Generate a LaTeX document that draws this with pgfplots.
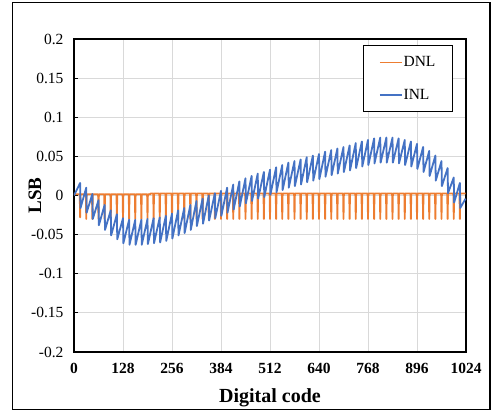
\documentclass[border=0pt]{standalone}
\usepackage{fontspec}
\setmainfont{Liberation Serif}
\usepackage{pgfplots}
\pgfplotsset{compat=1.18}
\definecolor{dnlorange}{HTML}{ED7D31}
\definecolor{inlblue}{HTML}{4472C4}
\definecolor{gridgray}{HTML}{D9D9D9}

% DNL of the 10-bit converter: small positive offset, a negative spike every 16 codes
\pgfplotstableread{
code dnl
0 0.0015
15 0.0015
16 -0.028
17 0.0015
31 0.0015
32 -0.030
33 0.0015
47 0.0015
48 -0.030
49 0.0015
63 0.0015
64 -0.030
65 0.0015
79 0.0015
80 -0.030
81 0.0015
95 0.0015
96 -0.030
97 0.0015
111 0.0015
112 -0.030
113 0.0015
127 0.0015
128 -0.030
129 0.0015
143 0.0015
144 -0.030
145 0.0015
159 0.0015
160 -0.030
161 0.0015
175 0.0015
176 -0.030
177 0.0015
191 0.0015
192 -0.030
193 0.0015
199 0.0015
200 0.0025
207 0.0025
208 -0.030
209 0.0025
223 0.0025
224 -0.030
225 0.0025
239 0.0025
240 -0.030
241 0.0025
255 0.0025
256 -0.030
257 0.0025
271 0.0025
272 -0.030
273 0.0025
287 0.0025
288 -0.030
289 0.0025
303 0.0025
304 -0.030
305 0.0025
319 0.0025
320 -0.030
321 0.0025
335 0.0025
336 -0.030
337 0.0025
351 0.0025
352 -0.030
353 0.0025
367 0.0025
368 -0.030
369 0.0025
383 0.0025
384 -0.030
385 0.0025
399 0.0025
400 -0.030
401 0.0025
415 0.0025
416 -0.030
417 0.0025
431 0.0025
432 -0.030
433 0.0025
447 0.0025
448 -0.030
449 0.0025
463 0.0025
464 -0.030
465 0.0025
479 0.0025
480 -0.030
481 0.0025
495 0.0025
496 -0.030
497 0.0025
511 0.0025
512 -0.030
513 0.0025
527 0.0025
528 -0.030
529 0.0025
543 0.0025
544 -0.030
545 0.0025
559 0.0025
560 -0.030
561 0.0025
575 0.0025
576 -0.030
577 0.0025
591 0.0025
592 -0.030
593 0.0025
607 0.0025
608 -0.030
609 0.0025
623 0.0025
624 -0.030
625 0.0025
639 0.0025
640 -0.030
641 0.0025
655 0.0025
656 -0.030
657 0.0025
671 0.0025
672 -0.030
673 0.0025
687 0.0025
688 -0.030
689 0.0025
703 0.0025
704 -0.030
705 0.0025
719 0.0025
720 -0.030
721 0.0025
735 0.0025
736 -0.030
737 0.0025
751 0.0025
752 -0.030
753 0.0025
767 0.0025
768 -0.030
769 0.0025
783 0.0025
784 -0.030
785 0.0025
799 0.0025
800 -0.030
801 0.0025
815 0.0025
816 -0.030
817 0.0025
831 0.0025
832 -0.030
833 0.0025
847 0.0025
848 -0.030
849 0.0025
863 0.0025
864 -0.030
865 0.0025
879 0.0025
880 -0.030
881 0.0025
895 0.0025
896 -0.030
897 0.0025
911 0.0025
912 -0.030
913 0.0025
927 0.0025
928 -0.030
929 0.0025
943 0.0025
944 -0.030
945 0.0025
959 0.0025
960 -0.030
961 0.0025
975 0.0025
976 -0.030
977 0.0025
991 0.0025
992 -0.030
993 0.0025
1007 0.0025
1008 -0.030
1009 0.0025
1023 0.0025
}\dnltable

% INL: top of each tooth just before the DNL spike, bottom just after it
\pgfplotstableread{
code inl
0 0.000
16 0.016
17 -0.016
32 0.010
33 -0.022
48 0.002
49 -0.030
64 -0.006
65 -0.038
80 -0.012
81 -0.044
96 -0.019
97 -0.051
112 -0.024
113 -0.056
128 -0.029
129 -0.061
144 -0.031
145 -0.063
160 -0.031
161 -0.063
176 -0.031
177 -0.063
192 -0.030
193 -0.062
208 -0.029
209 -0.061
224 -0.028
225 -0.060
240 -0.026
241 -0.058
256 -0.023
257 -0.055
272 -0.019
273 -0.051
288 -0.016
289 -0.048
304 -0.012
305 -0.044
320 -0.007
321 -0.039
336 -0.004
337 -0.036
352 0.000
353 -0.032
368 0.003
369 -0.029
384 0.006
385 -0.026
400 0.010
401 -0.022
416 0.014
417 -0.018
432 0.018
433 -0.014
448 0.022
449 -0.010
464 0.025
465 -0.007
480 0.028
481 -0.004
496 0.030
497 -0.002
512 0.033
513 0.001
528 0.036
529 0.004
544 0.039
545 0.007
560 0.042
561 0.010
576 0.044
577 0.012
592 0.046
593 0.014
608 0.049
609 0.017
624 0.051
625 0.019
640 0.053
641 0.021
656 0.056
657 0.024
672 0.058
673 0.026
688 0.060
689 0.028
704 0.062
705 0.030
720 0.064
721 0.032
736 0.067
737 0.035
752 0.069
753 0.037
768 0.071
769 0.039
784 0.073
785 0.041
800 0.074
801 0.042
816 0.074
817 0.042
832 0.074
833 0.042
848 0.073
849 0.041
864 0.071
865 0.039
880 0.069
881 0.037
896 0.066
897 0.034
912 0.062
913 0.030
928 0.057
929 0.025
944 0.051
945 0.019
960 0.044
961 0.012
976 0.035
977 0.003
992 0.023
993 -0.009
1008 0.016
1009 -0.016
1023 -0.004
}\inltable

\begin{document}
\begin{tikzpicture}[font=\fontsize{15.5}{18}\selectfont]
\begin{axis}[
  scale only axis,
  width=392pt, height=313pt,
  xmin=0, xmax=1024, ymin=-0.2, ymax=0.2,
  xtick={0,128,256,384,512,640,768,896,1024},
  xticklabels={0,128,256,384,512,640,768,896,1024},
  ytick={-0.2,-0.15,-0.1,-0.05,0,0.05,0.1,0.15,0.2},
  yticklabels={-0.2,-0.15,-0.1,-0.05,0,0.05,0.1,0.15,0.2},
  xticklabel style={font=\fontsize{15.5}{18}\selectfont\bfseries, yshift=-8pt},
  yticklabel style={font=\fontsize{15.5}{18}\selectfont, xshift=-7pt},
  xmajorgrids, ymajorgrids,
  major grid style={draw=gridgray, line width=0.8pt},
  axis line style={black, line width=1.2pt},
  tick align=inside,
  xtick style={draw=none},
  ytick pos=left,
  ytick style={black, line width=1pt},
  major tick length=4pt,
  legend cell align=left,
  legend style={
    at={(axis description cs:0.967,0.981)}, anchor=north east,
    draw=black, line width=1.2pt, fill=white,
    inner xsep=16pt, inner ysep=9pt, row sep=17pt,
    font=\fontsize{15.5}{18}\selectfont,
    nodes={inner xsep=1pt},
  },
  legend image code/.code={\draw[#1] (0pt,0pt) -- (22pt,0pt);},
]
\addplot[dnlorange, line width=1.8pt, line join=round, forget plot] table[x=code, y=dnl] {\dnltable};
\addplot[inlblue, line width=1.8pt, line join=round, forget plot] table[x=code, y=inl] {\inltable};
\addlegendimage{draw=dnlorange, line width=1.5pt}
\addlegendentry{DNL}
\addlegendimage{draw=inlblue, line width=1.5pt}
\addlegendentry{INL}
\end{axis}
% axis titles
\node[font=\fontsize{20}{24}\selectfont\bfseries, anchor=base] at (196pt,-51pt) {Digital code};
\node[font=\fontsize{19}{23}\selectfont\bfseries, rotate=90] at (-39pt,156.5pt) {LSB};
% chart frame
\draw[black, line width=1.2pt] (-61.3pt,-57.5pt) rectangle (416pt,349.3pt);
\pgfresetboundingbox
\useasboundingbox (-74pt,-59pt) rectangle (424pt,352pt);
\end{tikzpicture}
\end{document}
